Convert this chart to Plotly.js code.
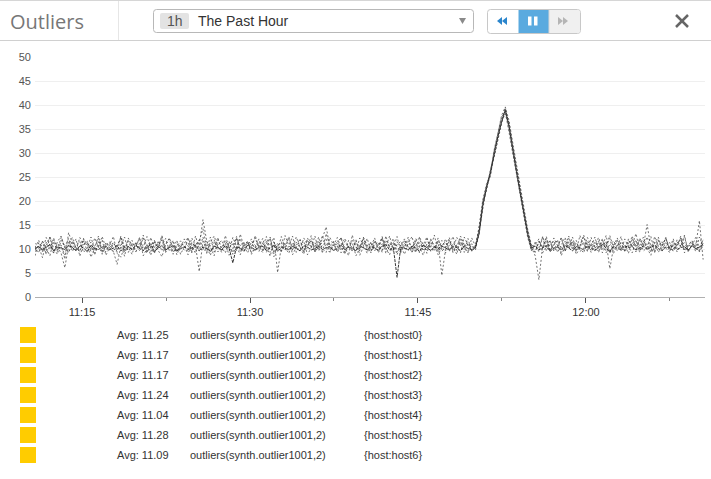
<!DOCTYPE html>
<html>
<head>
<meta charset="utf-8">
<script src="https://cdn.plot.ly/plotly-3.0.1.min.js"></script>
<style>
html,body{margin:0;padding:0;background:#fff;}
#chart{width:711px;height:479px;}
</style>
</head>
<body>
<div id="chart"></div>
<script>
// ---- data ----
var chartTitle = "Outliers";
var timeframeBadge = "1h";
var timeframeLabel = "The Past Hour";
var startTime = "2015-06-10 11:10:48";
var stepSeconds = 20;
var hosts = ["host0","host1","host2","host3","host4","host5","host6"];
var averages = ["11.25","11.17","11.17","11.24","11.04","11.28","11.09"];
var metricQuery = "outliers(synth.outlier1001,2)";
var yTickValues = [0,5,10,15,20,25,30,35,40,45,50];

var host0 = [
9.8,10.6,8.2,11.4,10.1,12.3,9.5,10.8,7.9,13.4,
11.2,9.6,10.4,12.1,9.3,10.7,8.8,11.5,10.2,9.4,
10.9,12.6,9.1,8.3,10.5,11.8,9.7,10.3,12.4,8.6,
10.1,11.3,9.2,10.8,11.9,9.5,10.6,8.9,11.1,10.4,
9.8,12.2,10.5,9.1,11.7,14.2,10.3,8.7,11.4,10.6,
9.3,12.8,10.2,11.1,9.6,13.1,10.4,9.2,11.6,10.8,
9.5,11.3,10.1,12.5,8.4,10.7,11.2,9.8,10.5,12.7,
9.3,10.9,11.6,8.8,10.3,11.4,9.9,12.1,14.6,10.5,
9.6,11.2,10.4,8.9,11.8,10.2,9.5,12.3,10.8,9.1,
11.5,10.3,9.7,12.6,10.1,8.8,11.3,10.6,9.2,11.9,
10.4,9.8,12.2,10.5,8.7,11.1,10.3,12.9,9.4,10.8,
11.5,9.6,10.2,12.4,10.9,9.3,11.2,10.5,10.2,14.1,
19.3,22.8,25.9,29.7,33.2,36.8,39.2,35.4,30.8,26.3,
21.9,17.2,13.4,10.1,9.4,11.6,10.3,12.2,9.7,10.8,
11.9,8.6,10.5,12.7,9.9,11.3,10.1,9.2,11.7,10.4,
12.5,9.6,10.9,11.4,9.1,10.6,12.3,10.2,9.5,11.8,
10.7,13.2,9.8,10.4,11.1,9.3,12.6,10.5,9.9,11.5,
10.2,12.1,9.4,10.8,11.3,9.7,10.6,12.4,10.3,11.9];

var host1 = [
10.4,9.2,11.7,10.3,8.6,11.9,10.5,9.1,6.1,10.8,
12.4,10.1,9.5,11.6,10.8,8.3,10.2,12.7,9.6,10.5,
11.3,9.4,10.7,12.2,9.8,10.4,8.9,11.5,10.1,12.9,
9.3,10.6,11.8,9.7,8.4,10.9,12.3,10.2,9.5,11.1,
10.7,8.8,11.4,10.3,9.6,12.5,9.1,10.8,11.9,9.4,
10.5,11.2,8.7,10.1,12.6,9.8,10.9,11.5,9.2,10.3,
12.1,9.7,10.6,8.5,11.3,10.2,9.4,12.8,10.7,9.9,
11.4,10.3,8.9,12.3,10.6,9.5,11.7,10.1,9.3,12.4,
10.8,9.6,11.2,10.4,8.6,12.9,10.3,9.7,11.5,10.2,
9.4,11.8,10.6,12.2,9.1,10.5,11.3,8.8,10.9,12.1,
9.7,10.3,11.6,9.2,10.8,12.5,9.5,10.1,11.4,4.5,
9.9,11.7,10.4,8.9,12.3,10.6,9.3,11.1,9.8,13.6,
20.1,23.4,26.2,30.4,33.9,37.5,38.6,34.2,29.6,25.4,
20.8,16.5,12.7,9.6,10.8,12.1,9.2,10.6,11.8,9.5,
10.3,12.4,9.9,10.7,11.5,8.9,10.2,12.6,9.7,11.1,
10.4,9.3,11.9,10.6,12.2,9.1,10.8,11.3,9.6,10.5,
12.7,10.1,9.4,11.6,10.3,8.7,11.2,12.5,9.8,10.6,
11.4,9.5,10.9,12.3,9.2,10.7,11.8,10.1,9.6,11.2];

var host2 = [
11.2,10.3,9.6,12.4,10.8,9.1,11.5,12.7,10.2,9.4,
10.7,12.1,8.5,10.9,11.6,9.8,12.3,10.4,9.2,11.4,
10.1,9.5,6.8,10.6,12.5,9.3,10.8,11.2,9.7,10.4,
12.6,10.2,9.1,11.5,10.7,12.2,9.6,10.3,11.8,8.9,
10.5,11.3,9.4,12.7,10.1,9.8,11.6,10.4,8.6,11.9,
10.3,9.2,11.4,10.8,12.3,9.5,10.6,11.7,8.9,10.2,
11.5,10.4,12.6,9.3,10.7,11.1,9.6,10.9,12.2,8.8,
10.5,11.9,9.7,10.2,12.8,9.4,10.6,11.3,12.1,9.9,
10.8,12.4,9.2,11.6,10.3,9.7,11.9,8.7,10.5,12.2,
9.6,10.9,11.4,9.3,12.7,10.2,9.8,11.5,10.6,8.9,
11.2,12.6,9.4,10.7,11.3,9.1,12.1,10.5,9.7,11.8,
10.3,12.4,9.5,10.9,11.6,10.1,9.2,12.3,10.6,14.5,
19.8,22.5,25.6,29.3,32.8,36.2,39.4,35.8,31.2,26.8,
22.4,17.8,13.9,10.4,8.6,3.6,10.5,11.8,9.4,12.3,
10.7,9.3,11.6,10.2,12.5,9.8,10.9,11.3,9.5,12.4,
10.1,11.7,9.2,10.6,12.8,10.3,9.7,11.4,10.8,9.1,
12.2,10.5,11.9,9.6,10.3,12.6,9.4,10.8,11.5,10.2,
9.3,11.6,10.7,12.1,9.8,10.4,11.3,9.5,12.5,10.6];

var host3 = [
8.6,11.3,10.5,9.2,12.6,10.1,8.9,11.8,10.4,12.2,
9.5,10.8,11.6,9.3,10.2,12.5,9.7,10.6,11.9,8.7,
10.3,11.4,9.8,10.9,8.5,12.3,10.6,9.4,11.2,10.7,
9.1,12.4,10.2,11.5,9.6,10.8,12.1,9.3,10.5,11.7,
10.4,9.5,12.3,10.7,5.3,11.6,10.1,12.5,9.4,10.9,
11.8,10.2,9.6,12.4,10.5,8.8,11.3,10.7,12.1,9.5,
10.6,12.2,9.3,10.8,11.5,9.7,12.6,10.3,9.1,11.4,
10.2,9.6,12.3,10.9,11.7,9.4,10.5,12.8,10.1,9.3,
11.6,10.4,12.5,9.8,10.7,11.3,8.6,10.2,12.4,10.9,
9.2,11.5,10.3,9.7,11.8,10.6,12.2,9.4,10.8,11.1,
10.5,9.3,11.7,12.4,9.6,10.2,11.9,10.7,8.8,10.4,
12.1,9.7,11.3,10.6,9.2,12.5,10.8,9.6,10.9,13.8,
18.9,23.1,25.2,30.1,33.6,37.1,38.8,36.3,31.5,27.1,
22.6,18.1,13.2,10.5,11.2,9.4,12.6,10.3,11.7,9.8,
10.6,12.3,9.5,11.4,10.2,9.7,12.8,10.5,11.1,9.3,
10.9,12.4,9.8,11.5,5.9,10.3,11.8,9.6,12.1,10.4,
9.2,11.3,10.7,12.5,9.9,10.6,11.4,9.3,10.8,12.2,
10.1,9.7,11.9,10.4,12.6,9.5,10.8,11.2,9.4,10.7];

var host4 = [
10.3,11.8,9.4,10.7,12.5,9.2,11.1,10.5,8.8,11.6,
10.2,9.7,12.4,10.9,11.3,9.5,10.6,12.2,8.9,10.8,
11.5,10.1,9.3,12.7,10.4,9.8,11.2,10.6,12.3,9.6,
10.9,8.7,11.4,10.2,12.6,9.3,10.7,11.8,9.5,10.3,
12.1,10.6,9.2,11.3,10.8,16.1,11.7,9.4,10.5,12.4,
9.8,10.3,11.6,8.9,10.7,12.2,9.5,11.4,10.1,12.8,
10.4,9.6,11.1,12.3,9.2,10.8,11.5,10.2,12.6,9.7,
10.9,12.1,9.4,10.6,11.8,10.3,12.5,9.1,13.2,10.7,
11.4,9.3,10.8,12.2,10.5,9.6,11.7,10.1,12.4,9.8,
10.6,12.3,9.2,11.1,10.4,12.7,9.5,10.9,11.6,10.2,
12.5,9.4,10.7,11.3,9.8,12.1,10.3,9.6,11.8,10.5,
9.2,10.8,12.6,9.7,11.4,10.1,12.2,9.5,10.4,13.1,
19.5,22.3,26.4,29.1,32.6,36.5,38.2,35.1,30.2,25.9,
21.3,16.8,12.4,9.7,11.4,10.2,12.5,9.6,10.9,11.7,
9.3,10.8,12.4,10.1,11.6,9.5,10.7,12.9,10.3,9.8,
11.5,10.4,12.1,9.2,10.8,11.7,10.3,12.6,9.6,11.2,
10.5,9.4,12.3,10.7,15.1,10.2,9.7,11.9,10.6,12.4,
9.5,11.1,10.3,12.7,9.8,10.9,11.5,10.2,9.6,12.1];

var host5 = [
9.5,10.2,11.6,8.9,10.7,11.3,9.8,12.4,10.5,9.2,
11.7,10.3,9.6,12.2,10.8,11.4,9.1,10.5,12.6,10.2,
9.8,11.1,10.4,12.5,9.3,10.7,11.8,9.5,10.2,12.3,
10.6,9.4,11.7,10.3,12.8,9.9,10.5,11.4,8.8,10.7,
11.2,12.4,9.7,10.6,11.9,10.1,9.3,11.5,12.7,10.4,
9.6,11.8,10.3,9.4,12.1,10.7,11.4,9.8,10.5,12.3,
10.1,9.3,11.6,10.8,12.4,5.1,10.6,11.2,9.7,10.3,
12.5,10.4,9.5,11.9,10.2,12.7,9.6,10.8,11.3,9.4,
10.7,11.5,12.3,9.2,10.6,11.8,10.4,9.7,12.1,10.5,
11.3,9.6,10.8,12.4,9.9,11.2,10.3,12.6,9.4,10.7,
11.6,10.2,9.3,12.5,10.8,9.7,11.4,10.1,12.3,9.5,
10.6,11.8,9.2,10.4,12.7,10.9,11.3,9.6,10.3,14.8,
20.4,23.7,25.4,30.6,34.1,37.8,39.6,36.7,32.1,27.4,
23.1,18.4,14.1,10.8,9.3,11.5,10.2,12.6,9.8,10.9,
11.7,10.3,9.4,12.2,10.6,11.8,9.5,10.1,12.4,10.7,
9.6,11.3,10.5,12.8,9.2,10.9,11.6,10.3,9.7,12.1,
10.4,11.9,9.5,10.8,12.5,10.1,9.3,11.7,10.6,12.3,
10.2,9.8,11.5,10.6,12.9,9.4,11.1,10.5,15.9,7.8];

var host6 = [
10.1,10.5,9.8,10.3,10.9,9.6,10.4,10.2,9.9,10.7,
10.3,9.7,10.6,10.2,9.5,10.8,10.1,9.9,10.4,10.6,
9.8,10.2,10.7,9.6,10.3,10.5,9.9,10.8,10.1,9.7,
10.4,10.9,9.5,10.2,10.6,9.8,10.3,10.7,9.6,10.1,
10.5,9.9,10.2,10.8,9.7,10.4,10.1,9.5,10.6,10.3,
9.8,10.7,10.2,7.1,10.5,10.1,9.6,10.9,10.3,9.9,
10.4,10.6,9.7,10.2,10.8,9.5,10.3,10.1,9.9,10.5,
10.2,9.6,10.7,10.4,9.8,10.1,10.6,9.9,10.3,10.5,
9.7,10.2,10.8,9.9,10.4,10.1,9.6,10.7,10.3,9.8,
10.5,10.2,9.7,10.6,10.9,9.8,10.3,4.1,10.4,10.1,
9.9,10.6,10.2,9.5,10.8,10.3,9.7,10.4,10.1,10.6,
10.2,9.8,10.5,10.3,9.6,10.7,10.1,9.9,10.3,13.3,
19.1,22.9,25.8,29.6,33.4,36.4,38.9,35.6,30.5,26.1,
21.7,17.3,13.1,10.2,10.6,9.8,10.3,10.7,9.5,10.2,
10.4,9.9,10.8,10.1,9.6,10.5,10.3,9.8,10.6,10.2,
9.7,10.4,10.9,10.2,9.5,10.6,10.1,9.9,10.7,10.3,
10.5,9.8,10.2,10.6,9.9,10.3,10.8,10.1,9.6,10.4,
10.2,10.7,9.9,10.3,10.5,9.8,10.6,10.1,10.4,10.9];

var seriesValues = [host0, host1, host2, host3, host4, host5, host6];

// ---- helpers ----
function pad(n){ return (n < 10 ? "0" : "") + n; }
function timeAt(i){
  var base = startTime.split(" ");
  var hms = base[1].split(":").map(Number);
  var secs = hms[0]*3600 + hms[1]*60 + hms[2] + i*stepSeconds;
  return base[0] + " " + pad(Math.floor(secs/3600)) + ":" + pad(Math.floor(secs%3600/60)) + ":" + pad(secs%60);
}

var W = 711, H = 479;
var M = {l: 35, r: 6, t: 57, b: 182};
var PW = W - M.l - M.r, PH = H - M.t - M.b;
function fx(x){ return (x - M.l) / PW; }
function fy(y){ return (H - M.b - y) / PH; }

var traces = seriesValues.map(function(vals, k){
  var xs = vals.map(function(v, i){ return timeAt(i); });
  return {
    x: xs, y: vals, type: "scatter", mode: "lines", name: hosts[k],
    opacity: k === 6 ? 0.9 : 0.75,
    line: {color: k === 6 ? "#222222" : "#444444", width: 1, dash: k === 6 ? "3px,1px" : "2px,2px"},
    hoverinfo: "skip"
  };
});

var shapes = [];
var annotations = [];
function rectPath(x0, y0, x1, y1, r){
  return "M" + fx(x0 + r) + "," + fy(y0) +
    " L" + fx(x1 - r) + "," + fy(y0) +
    " Q" + fx(x1) + "," + fy(y0) + " " + fx(x1) + "," + fy(y0 + r) +
    " L" + fx(x1) + "," + fy(y1 - r) +
    " Q" + fx(x1) + "," + fy(y1) + " " + fx(x1 - r) + "," + fy(y1) +
    " L" + fx(x0 + r) + "," + fy(y1) +
    " Q" + fx(x0) + "," + fy(y1) + " " + fx(x0) + "," + fy(y1 - r) +
    " L" + fx(x0) + "," + fy(y0 + r) +
    " Q" + fx(x0) + "," + fy(y0) + " " + fx(x0 + r) + "," + fy(y0) + " Z";
}
function addPath(d, fill, line, lw){
  shapes.push({type: "path", xref: "paper", yref: "paper", path: d,
    fillcolor: fill || "rgba(0,0,0,0)", line: {color: line || "rgba(0,0,0,0)", width: lw || 0}, layer: "above"});
}
function addLine(x0, y0, x1, y1, color, w){
  shapes.push({type: "line", xref: "paper", yref: "paper", x0: fx(x0), y0: fy(y0), x1: fx(x1), y1: fy(y1),
    line: {color: color, width: w}, layer: "above"});
}
function addRect(x0, y0, x1, y1, fill, line, lw){
  shapes.push({type: "rect", xref: "paper", yref: "paper", x0: fx(x0), y0: fy(y0), x1: fx(x1), y1: fy(y1),
    fillcolor: fill, line: {color: line || "rgba(0,0,0,0)", width: lw || 0}, layer: "above"});
}
function poly(pts){
  return "M" + pts.map(function(p){ return fx(p[0]) + "," + fy(p[1]); }).join(" L") + " Z";
}
function addText(text, x, y, size, color, anchor, family){
  annotations.push({text: text, xref: "paper", yref: "paper", x: fx(x), y: fy(y),
    xanchor: anchor || "left", yanchor: "middle", showarrow: false,
    font: {size: size, color: color, family: family || "Liberation Sans, Arial, sans-serif"}});
}

// header
addLine(0, 0.5, W, 0.5, "#d6d6d6", 1);
addLine(0, 40.5, W, 40.5, "#d0d0d0", 1);
addLine(118.5, 1, 118.5, 40, "#e6e6e6", 1);
addText(chartTitle, 8, 21, 20, "#777777", "left", "Open Sans, Liberation Sans, sans-serif");
// timeframe dropdown
addPath(rectPath(153.5, 9.5, 473.5, 32.5, 3), "#ffffff", "#b8b8b8", 1);
addPath(rectPath(160, 13, 189, 29, 2), "#e3e3e3", null, 0);
addText(timeframeBadge, 174.5, 21, 14, "#555555", "center", "Liberation Sans, Arial, sans-serif");
addText(timeframeLabel, 196, 21, 14, "#333333", "left", "Liberation Sans, Arial, sans-serif");
addPath(poly([[459, 18], [466, 18], [462.5, 24]]), "#8a8a8a", null, 0);
// play controls
addPath(rectPath(487.5, 9.5, 580.5, 33.5, 3), "#ffffff", "#c8c8c8", 1);
addRect(518.5, 10, 549, 33, "#5aaadf", null, 0);
addPath("M" + fx(549) + "," + fy(10) + " L" + fx(577.5) + "," + fy(10) + " Q" + fx(580) + "," + fy(10) + " " + fx(580) + "," + fy(12.5) +
  " L" + fx(580) + "," + fy(30.5) + " Q" + fx(580) + "," + fy(33) + " " + fx(577.5) + "," + fy(33) + " L" + fx(549) + "," + fy(33) + " Z", "#f0f0f0", null, 0);
addLine(549, 10, 549, 33, "#d6d6d6", 1);
// rewind icon
addPath(poly([[502, 17], [502, 25], [497, 21]]), "#2a85cc", null, 0);
addPath(poly([[507, 17], [507, 25], [502, 21]]), "#2a85cc", null, 0);
// pause icon
addRect(528, 16.5, 531.5, 25.5, "#ffffff", null, 0);
addRect(534, 16.5, 537.5, 25.5, "#ffffff", null, 0);
// forward icon
addPath(poly([[558, 17], [558, 25], [563, 21]]), "#b5b5b5", null, 0);
addPath(poly([[563, 17], [563, 25], [568, 21]]), "#b5b5b5", null, 0);
// close
addLine(676, 15, 688, 27, "#666666", 2.5);
addLine(688, 15, 676, 27, "#666666", 2.5);

// legend
hosts.forEach(function(h, k){
  var cy = 335 + 20*k;
  addRect(20, cy - 8, 36, cy + 8, "#ffcc00", null, 0);
  addText("Avg: " + averages[k], 115, cy, 11, "#333333", "left");
  addText(metricQuery, 188, cy, 11, "#333333", "left");
  addText("{host:" + h + "}", 362, cy, 11, "#333333", "left");
});

var layout = {
  width: W, height: H,
  margin: M,
  paper_bgcolor: "#ffffff", plot_bgcolor: "#ffffff",
  showlegend: false,
  hovermode: false,
  font: {family: "Liberation Sans, Arial, sans-serif", size: 11, color: "#444"},
  xaxis: {
    type: "date",
    range: ["2015-06-10 11:10:48", "2015-06-10 12:10:38"],
    tick0: "2015-06-10 11:00:00", dtick: 900000, tickformat: "%H:%M",
    showgrid: false, zeroline: false,
    showline: true, linecolor: "#b0b0b0", linewidth: 1,
    ticks: "outside", ticklen: 5, tickcolor: "#555", tickwidth: 1,
    minor: {dtick: 450000, ticks: "outside", ticklen: 3, tickcolor: "#888", showgrid: false},
    tickfont: {size: 11, color: "#333"},
    fixedrange: true
  },
  yaxis: {
    range: [0, 50],
    tickmode: "array", tickvals: yTickValues, ticktext: yTickValues.map(String),
    showgrid: true, gridcolor: "#efefef", gridwidth: 1,
    zeroline: false, showline: false, ticks: "",
    tickfont: {size: 11, color: "#555"},
    ticklabelstandoff: 3,
    fixedrange: true
  },
  shapes: shapes,
  annotations: annotations
};

Plotly.newPlot("chart", traces, layout, {displayModeBar: false, staticPlot: true});
</script>
</body>
</html>
